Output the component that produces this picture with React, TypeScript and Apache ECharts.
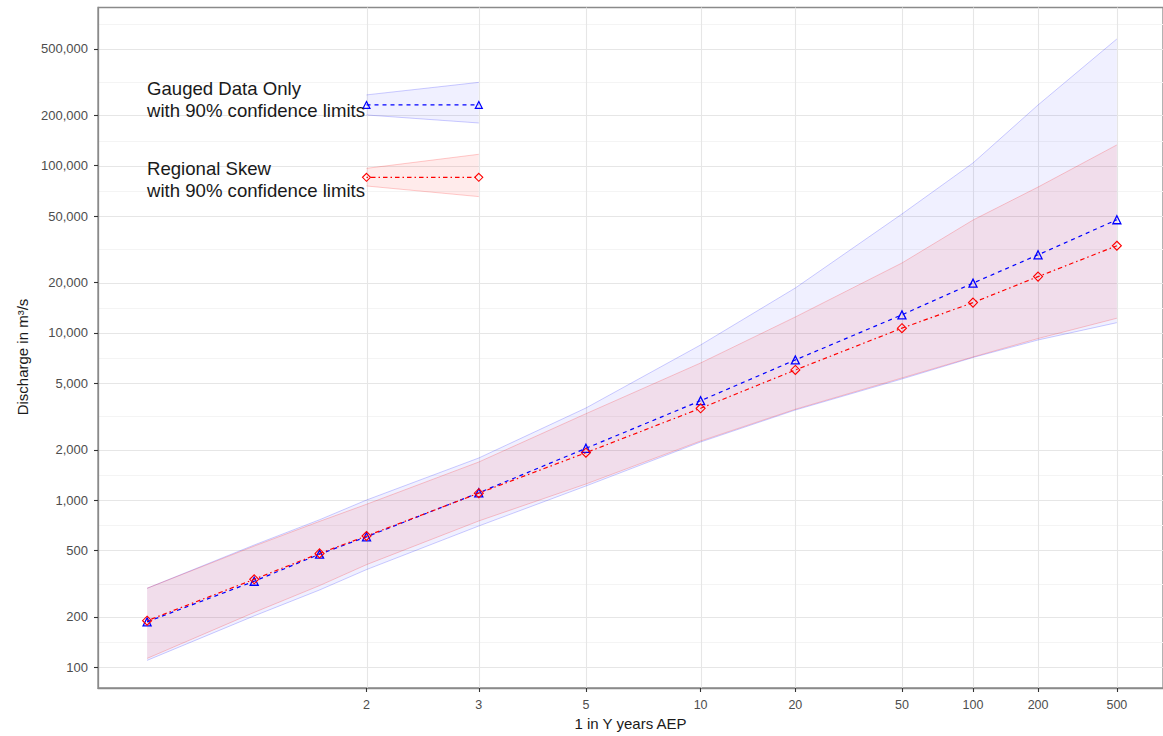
import { useEffect, useRef } from 'react';
import * as echarts from 'echarts';

// Return periods (1 in Y years) of the plotted quantiles
const returnPeriods = [1.25, 1.5, 1.75, 2, 3, 5, 10, 20, 50, 100, 200, 500];

// Gauged data only
const gaugedQ = [187, 327, 475, 603, 1106, 2040, 3930, 6890, 12820, 19850, 29300, 47500];
const gaugedUpper = [297, 539, 763, 1001, 1786, 3555, 8467, 18560, 51400, 103800, 230700, 572500];
const gaugedLower = [110, 203, 290, 384, 700, 1214, 2225, 3457, 5300, 7125, 9070, 11510];

// Regional skew
const regionalQ = [190, 336, 480, 610, 1100, 1920, 3540, 6000, 10670, 15170, 21700, 33200];
const regionalUpper = [297, 531, 746, 944, 1690, 3286, 6607, 12450, 26180, 47300, 74500, 133100];
const regionalLower = [113, 213, 308, 411, 750, 1248, 2256, 3493, 5375, 7178, 9250, 12230];

// In-plot legend keys (drawn in data space between Y = 2 and Y = 3)
const keyPeriods = [2, 3];
const gaugedKeyLine = [230700, 230700];
const gaugedKeyUpper = [265000, 315000];
const gaugedKeyLower = [201000, 180000];
const regionalKeyLine = [85200, 85200];
const regionalKeyUpper = [96400, 117000];
const regionalKeyLower = [75600, 65300];

// Axis ticks
const xTickPeriods = [2, 3, 5, 10, 20, 50, 100, 200, 500];
const yTickValues = [100, 200, 500, 1000, 2000, 5000, 10000, 20000, 50000, 100000, 200000, 500000, 1000000];

const FONT = 'Liberation Sans, Arial, Helvetica, sans-serif';

// inverse standard normal CDF (Acklam)
function qnorm(p: number): number {
  const a = [-3.969683028665376e1, 2.209460984245205e2, -2.759285104469687e2, 1.38357751867269e2, -3.066479806614716e1, 2.506628277459239];
  const b = [-5.447609879822406e1, 1.615858368580409e2, -1.556989798598866e2, 6.680131188771972e1, -1.328068155288572e1];
  const c = [-7.784894002430293e-3, -3.223964580411365e-1, -2.400758277161838, -2.549732539343734, 4.374664141464968, 2.938163982698783];
  const d = [7.784695709041462e-3, 3.224671290700398e-1, 2.445134137142996, 3.754408661907416];
  const pl = 0.02425;
  let q: number, r: number;
  if (p < pl) {
    q = Math.sqrt(-2 * Math.log(p));
    return (((((c[0] * q + c[1]) * q + c[2]) * q + c[3]) * q + c[4]) * q + c[5]) / ((((d[0] * q + d[1]) * q + d[2]) * q + d[3]) * q + 1);
  }
  if (p > 1 - pl) {
    q = Math.sqrt(-2 * Math.log(1 - p));
    return -(((((c[0] * q + c[1]) * q + c[2]) * q + c[3]) * q + c[4]) * q + c[5]) / ((((d[0] * q + d[1]) * q + d[2]) * q + d[3]) * q + 1);
  }
  q = p - 0.5;
  r = q * q;
  return ((((((a[0] * r + a[1]) * r + a[2]) * r + a[3]) * r + a[4]) * r + a[5]) * q) / (((((b[0] * r + b[1]) * r + b[2]) * r + b[3]) * r + b[4]) * r + 1);
}
const toZ = (y: number) => qnorm(1 - 1 / y);

function fmtThousands(v: number) {
  return String(Math.round(v)).replace(/\B(?=(\d{3})+(?!\d))/g, ',');
}

function bandSeries(name: string, xs: number[], upper: number[], lower: number[], fill: string, edge: string) {
  return {
    type: 'custom',
    name,
    silent: true,
    z: 2,
    data: [[xs[0], upper[0]]],
    renderItem: (_params: any, api: any) => {
      const up = xs.map((x, i) => api.coord([x, upper[i]]));
      const lo = xs.map((x, i) => api.coord([x, lower[i]]));
      return {
        type: 'group',
        children: [
          { type: 'polygon', shape: { points: up.concat(lo.slice().reverse()) }, style: { fill, stroke: null } },
          { type: 'polyline', shape: { points: up }, style: { fill: null, stroke: edge, lineWidth: 1 } },
          { type: 'polyline', shape: { points: lo }, style: { fill: null, stroke: edge, lineWidth: 1 } },
        ],
      };
    },
  };
}

export default function App() {
  const ref = useRef<HTMLDivElement>(null);
  useEffect(() => {
    if (!ref.current) return;
    const chart = echarts.init(ref.current, null, { renderer: 'svg' });

    const zs = returnPeriods.map(toZ);
    const keyZ = keyPeriods.map(toZ);
    const xTickZ = xTickPeriods.map(toZ);
    const yMinor: number[] = [];
    for (let i = 0; i < yTickValues.length - 1; i++) yMinor.push(Math.sqrt(yTickValues[i] * yTickValues[i + 1]));

    const zMin = -1.0299;
    const zMax = 3.0551;
    const yMin = 75.2;
    const yMax = 883000;

    const gridSeries = {
      type: 'custom',
      silent: true,
      z: 0,
      data: [[0, 1000]],
      renderItem: (params: any, api: any) => {
        const cs = params.coordSys;
        const children: any[] = [];
        yMinor.forEach((v) => {
          if (v <= yMin || v >= yMax) return;
          const y = Math.round(api.coord([zMin, v])[1]) + 0.5;
          children.push({ type: 'line', shape: { x1: cs.x, y1: y, x2: cs.x + cs.width, y2: y }, style: { stroke: '#f4f4f4', lineWidth: 1 } });
        });
        yTickValues.forEach((v) => {
          if (v <= yMin || v >= yMax) return;
          const y = Math.round(api.coord([zMin, v])[1]) + 0.5;
          children.push({ type: 'line', shape: { x1: cs.x, y1: y, x2: cs.x + cs.width, y2: y }, style: { stroke: '#e6e6e6', lineWidth: 1.1 } });
        });
        xTickZ.forEach((z) => {
          const x = Math.round(api.coord([z, 1000])[0]) + 0.5;
          children.push({ type: 'line', shape: { x1: x, y1: cs.y, x2: x, y2: cs.y + cs.height }, style: { stroke: '#e6e6e6', lineWidth: 1.1 } });
        });
        return { type: 'group', children };
      },
    };

    const blue = '#0000ff';
    const red = '#ff0000';
    const blueFill = 'rgba(0,0,255,0.06)';
    const redFill = 'rgba(255,0,0,0.08)';
    const blueEdge = 'rgba(0,0,255,0.2)';
    const redEdge = 'rgba(255,0,0,0.2)';

    chart.setOption({
      animation: false,
      backgroundColor: '#ffffff',
      grid: {
        left: 98,
        right: -2,
        top: 7.5,
        bottom: 48,
        show: true,
        borderColor: '#8a8a8a',
        borderWidth: 1.3,
        backgroundColor: 'transparent',
      },
      xAxis: {
        type: 'value',
        min: zMin,
        max: zMax,
        name: '1 in Y years AEP',
        nameLocation: 'middle',
        nameGap: 28,
        nameTextStyle: { fontFamily: FONT, fontSize: 15, color: '#1a1a1a' },
        axisLine: { show: true, onZero: false, lineStyle: { color: '#8a8a8a', width: 1.3 } },
        splitLine: { show: false },
        axisTick: { show: true, length: 4, customValues: xTickZ, lineStyle: { color: '#333333', width: 1.1 } },
        axisLabel: {
          customValues: xTickZ,
          margin: 10,
          fontFamily: FONT,
          fontSize: 12.5,
          color: '#4d4d4d',
          formatter: (v: number) => {
            let best = 0;
            xTickZ.forEach((z, i) => {
              if (Math.abs(z - v) < Math.abs(xTickZ[best] - v)) best = i;
            });
            return String(xTickPeriods[best]);
          },
        },
      },
      yAxis: {
        type: 'log',
        logBase: 10,
        min: yMin,
        max: yMax,
        axisLine: { show: true, onZero: false, lineStyle: { color: '#8a8a8a', width: 1.3 } },
        splitLine: { show: false },
        minorSplitLine: { show: false },
        axisTick: { show: true, length: 4, customValues: yTickValues.slice(0, -1), lineStyle: { color: '#333333', width: 1.1 } },
        axisLabel: {
          customValues: yTickValues.slice(0, -1),
          margin: 10,
          fontFamily: FONT,
          fontSize: 13,
          color: '#4d4d4d',
          formatter: (v: number) => fmtThousands(v),
        },
      },
      graphic: [
        {
          type: 'text',
          x: 22,
          y: 357,
          rotation: Math.PI / 2,
          z: 10,
          style: { text: 'Discharge in m³/s', font: `15px ${FONT}`, fill: '#1a1a1a', align: 'center', verticalAlign: 'middle' },
        },
        {
          type: 'text',
          left: 147,
          top: 77,
          z: 10,
          style: { text: 'Gauged Data Only\nwith 90% confidence limits', font: `18.6px ${FONT}`, lineHeight: 22, fill: '#1a1a1a' },
        },
        {
          type: 'text',
          left: 147,
          top: 157,
          z: 10,
          style: { text: 'Regional Skew\nwith 90% confidence limits', font: `18.6px ${FONT}`, lineHeight: 22, fill: '#1a1a1a' },
        },
      ],
      series: [
        gridSeries,
        bandSeries('Gauged band', zs, gaugedUpper, gaugedLower, blueFill, blueEdge),
        bandSeries('Regional band', zs, regionalUpper, regionalLower, redFill, redEdge),
        bandSeries('Gauged key band', keyZ, gaugedKeyUpper, gaugedKeyLower, blueFill, blueEdge),
        bandSeries('Regional key band', keyZ, regionalKeyUpper, regionalKeyLower, redFill, redEdge),
        {
          type: 'line',
          name: 'Gauged Data Only',
          z: 4,
          data: zs.map((z, i) => [z, gaugedQ[i]]),
          symbol: 'triangle',
          symbolSize: 8,
          itemStyle: { color: 'rgba(255,255,255,0)', borderColor: blue, borderWidth: 1.3 },
          lineStyle: { color: blue, width: 1.2, type: [4, 4] },
        },
        {
          type: 'line',
          name: 'Regional Skew',
          z: 5,
          data: zs.map((z, i) => [z, regionalQ[i]]),
          symbol: 'diamond',
          symbolSize: 9,
          itemStyle: { color: 'rgba(255,255,255,0)', borderColor: red, borderWidth: 1.1 },
          lineStyle: { color: red, width: 1.2, type: [1.5, 3, 4.5, 3] },
        },
        {
          type: 'line',
          name: 'Gauged key',
          z: 4,
          data: keyZ.map((z, i) => [z, gaugedKeyLine[i]]),
          symbol: 'triangle',
          symbolSize: 7,
          itemStyle: { color: 'rgba(255,255,255,0)', borderColor: blue, borderWidth: 1.2 },
          lineStyle: { color: blue, width: 1.2, type: [4, 4] },
        },
        {
          type: 'line',
          name: 'Regional key',
          z: 5,
          data: keyZ.map((z, i) => [z, regionalKeyLine[i]]),
          symbol: 'diamond',
          symbolSize: 8,
          itemStyle: { color: 'rgba(255,255,255,0)', borderColor: red, borderWidth: 1.1 },
          lineStyle: { color: red, width: 1.2, type: [1.5, 3, 4.5, 3] },
        },
      ],
    });
    return () => chart.dispose();
  }, []);
  return <div ref={ref} style={{ position: 'fixed', left: 0, top: 0, width: 1163, height: 736 }} />;
}
